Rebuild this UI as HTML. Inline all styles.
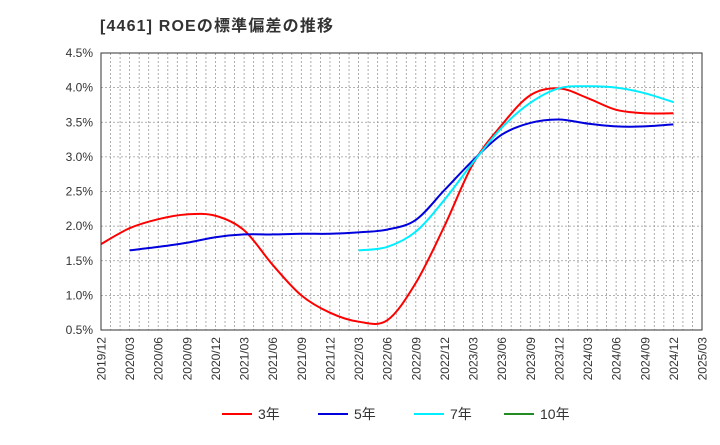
<!DOCTYPE html>
<html><head><meta charset="utf-8"><style>
body{margin:0;background:#fff;font-family:"Liberation Sans","Noto Sans CJK JP",sans-serif;}
</style></head><body>
<svg width="720" height="440" xmlns="http://www.w3.org/2000/svg">
<text x="100" y="31" font-size="16" font-weight="bold" fill="#333" textLength="233" font-family="Liberation Sans, Noto Sans CJK JP, sans-serif">[4461]  ROEの標準偏差の推移</text>
<g id="grid"></g>
<g id="yt"></g>
<g id="xt"></g>
<g id="series"></g>
<rect x="101" y="53" width="601" height="277" fill="none" stroke="#333" stroke-width="1"/>
<g id="legend"></g>
</svg>
<script>
const xLabels=["2019/12","2020/03","2020/06","2020/09","2020/12","2021/03","2021/06","2021/09","2021/12","2022/03","2022/06","2022/09","2022/12","2023/03","2023/06","2023/09","2023/12","2024/03","2024/06","2024/09","2024/12","2025/03"];
const yTicks=[0.5,1.0,1.5,2.0,2.5,3.0,3.5,4.0,4.5];
const s3=[1.74,1.97,2.10,2.17,2.15,1.94,1.44,1.0,0.75,0.62,0.64,1.18,2.0,2.9,3.46,3.89,3.99,3.85,3.68,3.63,3.63];
const s5=[null,1.65,1.70,1.76,1.84,1.88,1.88,1.89,1.89,1.91,1.95,2.09,2.52,2.95,3.32,3.49,3.54,3.48,3.44,3.44,3.47];
const s7=[null,null,null,null,null,null,null,null,null,1.65,1.70,1.92,2.38,2.92,3.42,3.78,3.99,4.02,4.0,3.92,3.79];
const s10=[];
const NS="http://www.w3.org/2000/svg";
const L=101,R=702,T=53,B=330;
const xs=i=>L+i*(R-L)/21;
const ys=v=>B-(v-0.5)/4*(B-T);
function mk(t,a,p){const e=document.createElementNS(NS,t);for(const k in a)e.setAttribute(k,a[k]);p.appendChild(e);return e;}
const grid=document.getElementById('grid');
for(let m=1;m<63;m++){const x=L+m*(R-L)/63;const l=mk('line',{x1:x,x2:x,y1:T,y2:B,stroke:'#999','stroke-dasharray':'2,2','stroke-width':0.8},grid);

}
const yt=document.getElementById('yt');
yTicks.forEach(v=>{const y=ys(v);const l=mk('line',{x1:L,x2:R,y1:y,y2:y,stroke:'#999','stroke-dasharray':'2,2','stroke-width':0.8},grid);


const t=mk('text',{x:93,y:y+4,'text-anchor':'end','font-size':12,fill:'#333'},yt);t.textContent=v.toFixed(1)+'%';

});
const xt=document.getElementById('xt');
xLabels.forEach((s,i)=>{const x=xs(i);const t=mk('text',{x:0,y:0,transform:`translate(${x+4.5},${337}) rotate(-90)`,'text-anchor':'end','font-size':12,fill:'#333'},xt);t.textContent=s;

});
function path(arr){const pts=[];arr.forEach((v,i)=>{if(v!=null)pts.push([xs(i),ys(v)]);});if(pts.length<2)return '';
let d=`M${pts[0][0]},${pts[0][1]}`;for(let i=0;i<pts.length-1;i++){const p0=pts[Math.max(0,i-1)],p1=pts[i],p2=pts[i+1],p3=pts[Math.min(pts.length-1,i+2)];
d+=` C${p1[0]+(p2[0]-p0[0])/6},${p1[1]+(p2[1]-p0[1])/6} ${p2[0]-(p3[0]-p1[0])/6},${p2[1]-(p3[1]-p1[1])/6} ${p2[0]},${p2[1]}`;}return d;}
const sg=document.getElementById('series');
const defs=[[s3,'#ff0000','3年','series-3y'],[s5,'#0000dd','5年','series-5y'],[s7,'#00eeff','7年','series-7y'],[s10,'#228b22','10年','series-10y']];
defs.forEach(([a,c,n,id])=>{const d=path(a);if(d){const p=mk('path',{d:d,fill:'none',stroke:c,'stroke-width':2},sg);

}});
const lg=document.getElementById('legend');const lx=[222,318,414,504];
defs.forEach(([a,c,n,id],i)=>{const g=mk('g',{},lg);


mk('line',{x1:lx[i],x2:lx[i]+30,y1:414,y2:414,stroke:c,'stroke-width':2},g);
const t=mk('text',{x:lx[i]+36,y:419,'font-size':14,fill:'#333'},g);t.textContent=n;});
</script>
</body></html>
